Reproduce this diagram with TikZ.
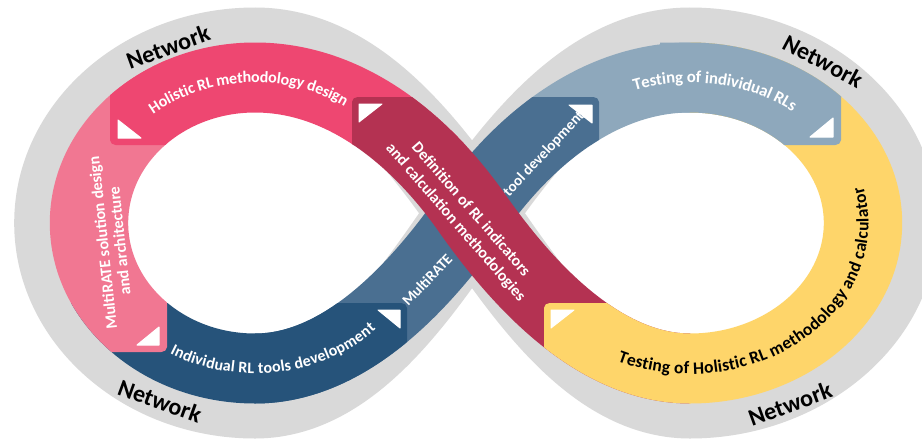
\documentclass[tikz,border=0pt]{standalone}
\usepackage{fontspec}
\setmainfont{Carlito}
\usetikzlibrary{decorations.text}
\definecolor{cgrey}{HTML}{D9D9D9}
\definecolor{clpink}{HTML}{F17792}
\definecolor{chpink}{HTML}{EE4771}
\definecolor{ccrim}{HTML}{B43252}
\definecolor{cyel}{HTML}{FED56A}
\definecolor{clblue}{HTML}{8EA8BC}
\definecolor{csblue}{HTML}{4A6F91}
\definecolor{cdblue}{HTML}{26537A}
\newcommand\lblfont{\bfseries\fontsize{16}{18}\selectfont}
\newcommand\lbbfont{\bfseries\fontsize{16.8}{18}\selectfont}
\newcommand\sbfont{\bfseries\fontsize{15}{17}\selectfont}
\newcommand\ylwfont{\bfseries\fontsize{17.5}{18}\selectfont}
\begin{document}
\begin{tikzpicture}[x=1pt,y=-1pt,
  band/.style={line width=70pt},
  wlabel/.style={font=\lblfont,text=white,align=center,inner sep=0pt},
  netlabel/.style={font=\bfseries\fontsize{24}{24}\selectfont,text=black,inner sep=0pt},
  tri/.style={fill=white,draw=white,line width=1pt,line join=round},
  stretch/.style={x=0.892857pt,transform canvas={xscale=1.12}}]
\useasboundingbox (0,0) rectangle (922,440);
\fill[white] (0,0) rectangle (922,440);

\begin{scope}[stretch]
  % grey outer band
  \draw[cgrey,line width=80pt] (255,47.5) .. controls (147,47.5) and (59,126) .. (59,223)
     .. controls (59,320) and (147,398.5) .. (255,398.5)
     .. controls (350,398.5) and (420,287) .. (472,213)
     .. controls (524,139) and (595,47.5) .. (690,47.5)
     .. controls (800,47.5) and (893,126) .. (893,223)
     .. controls (893,320) and (800,398.5) .. (690,398.5)
     .. controls (595,398.5) and (524,287) .. (472,213)
     .. controls (420,139) and (350,47.5) .. (255,47.5) -- cycle;
  % light blue (base)
  \begin{scope}
    \clip[rounded corners=5pt] (-100,-100) rectangle (841,145);
    \draw[band,clblue] (472,213) .. controls (524,139) and (600,77.5) .. (690,77.5)
       .. controls (785,77.5) and (863,143) .. (863,223);
  \end{scope}
  % steel blue
  \begin{scope}
    \clip[rounded corners=5pt] (-100,97) rectangle (599,600);
    \draw[band,csblue] (255,368.5) .. controls (345,368.5) and (420,287) .. (472,213)
       .. controls (524,139) and (600,77.5) .. (690,77.5);
  \end{scope}
  % dark blue
  \begin{scope}
    \clip[rounded corners=5pt] (-100,303) rectangle (407,600);
    \draw[band,cdblue] (89,223) .. controls (89,303) and (163,368.5) .. (255,368.5)
       .. controls (345,368.5) and (420,287) .. (472,213);
  \end{scope}
\end{scope}

% text on the steel blue ribbon (partly hidden by the crimson ribbon)
\node[wlabel,rotate=46,font=\sbfont] (mrt) at (427,280) {MultiRATE};
\node[wlabel,rotate=47,font=\sbfont] (tooldev) at (544,154) {tool development};

\begin{scope}[stretch]
  % light pink
  \begin{scope}
    \clip[rounded corners=5pt] (-100,-100) rectangle (167,352);
    \draw[band,clpink] (255,77.5) .. controls (163,77.5) and (89,143) .. (89,223)
       .. controls (89,303) and (163,368.5) .. (255,368.5);
  \end{scope}
  % hot pink
  \begin{scope}
    \clip[rounded corners=5pt] (110,-100) rectangle (1000,145);
    \draw[band,chpink] (472,213) .. controls (420,139) and (345,77.5) .. (255,77.5)
       .. controls (163,77.5) and (89,143) .. (89,223);
  \end{scope}
  % crimson
  \begin{scope}
    \clip[rounded corners=5pt] (352,97) rectangle (1000,600);
    \draw[band,ccrim] (690,368.5) .. controls (600,368.5) and (524,287) .. (472,213)
       .. controls (420,139) and (345,77.5) .. (255,77.5);
  \end{scope}
  % yellow
  \begin{scope}
    \clip[rounded corners=5pt] (544,303) -- (544,600) -- (1000,600) -- (1000,-100)
       -- (650,-100) -- (650,303) -- cycle;
    \draw[band,cyel] (690,77.5) .. controls (785,77.5) and (863,143) .. (863,223)
       .. controls (863,303) and (785,368.5) .. (690,368.5)
       .. controls (600,368.5) and (524,287) .. (472,213);
  \end{scope}
  % light blue end over yellow
  \begin{scope}
    \clip[rounded corners=5pt] (660,-100) rectangle (841,145);
    \draw[band,clblue] (600,77.5) .. controls (650,77.5) and (660,77.5) .. (690,77.5)
       .. controls (785,77.5) and (863,143) .. (863,223);
  \end{scope}
\end{scope}

% triangles
\path[tri] (118,120) -- (118,138) -- (141,138) -- cycle;
\path[tri] (359,104) -- (382,104) -- (359,122) -- cycle;
\path[tri] (569,105) -- (592,105) -- (592,123) -- cycle;
\path[tri] (833,118) -- (833,137) -- (810,137) -- cycle;
\path[tri] (551,310) -- (574,310) -- (551,328) -- cycle;
\path[tri] (378,310) -- (400,310) -- (400,328) -- cycle;
\path[tri] (159,327) -- (159,345) -- (137,345) -- cycle;

% straight labels
\node[wlabel,rotate=-49,font=\bfseries\fontsize{16}{20}\selectfont] (defn) at (463,216)
  {Definition of RL indicators\\and calculation methodologies};
\node[wlabel,rotate=96,font=\bfseries\fontsize{16}{17}\selectfont] (msd) at (111,242)
  {MultiRATE solution design\\and architecture};

% curved labels
\path[decorate,decoration={text along path,text align=center,raise=-5pt,text color=white,
  text={|\lblfont|Holistic RL methodology design}}]
  (255,223) ++(-152.8:166 and 145.5) arc[start angle=-152.8,end angle=-32.8,x radius=166,y radius=145.5];
\path[decorate,decoration={text along path,text align=center,raise=-5pt,text color=white,
  text={|\lbbfont|Testing of individual RLs}}]
  (690,223) ++(-140:173 and 145.5) arc[start angle=-140,end angle=-20,x radius=173,y radius=145.5];
\path[decorate,decoration={text along path,text align=center,raise=-5pt,text color=white,
  text={|\lblfont|Individual RL tools development}}]
  (255,223) ++(142:166 and 145.5) arc[start angle=142,end angle=22,x radius=166,y radius=145.5];
\path[decorate,decoration={text along path,text align=center,raise=-5.5pt,text color=black,
  text={|\ylwfont|Testing of Holistic RL methodology and calculator}}]
  (690,223) ++(125:173 and 145.5) arc[start angle=125,end angle=-26,x radius=173,y radius=145.5];

% Network labels
\node[netlabel,rotate=20] (n1) at (168,47) {Network};
\node[netlabel,rotate=-28] (n2) at (823,61) {Network};
\node[netlabel,rotate=-20] (n3) at (160,401) {Network};
\node[netlabel,rotate=20] (n4) at (790,404) {Network};
\end{tikzpicture}
\end{document}
